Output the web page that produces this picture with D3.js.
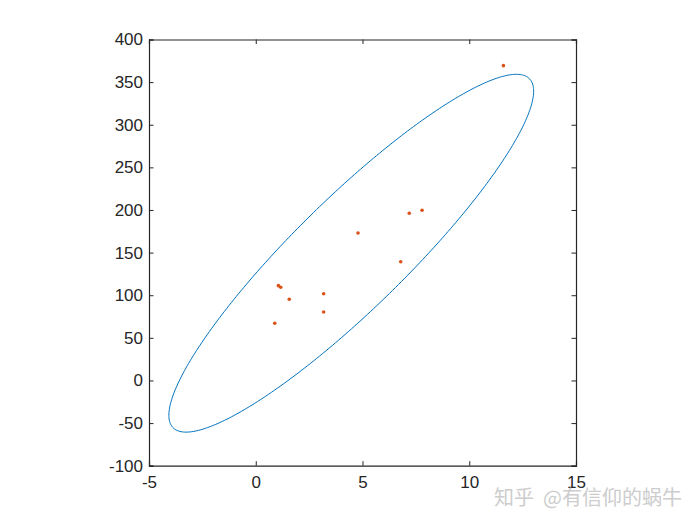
<!DOCTYPE html>
<html><head><meta charset="utf-8">
<script src="https://cdn.jsdelivr.net/npm/d3@7"></script>
<style>body{margin:0;background:#fff}svg{display:block}</style>
</head><body>
<svg id="chart" width="700" height="525"></svg>
<script>
const xValues = [1.06, 1.17, 1.57, 3.18, 3.18, 0.89, 7.19, 7.79, 4.79, 6.79, 11.6];
const yValues = [111.2, 109.3, 95.2, 101.8, 80.3, 67.1, 196.1, 199.6, 173.0, 139.3, 369.3];
const xTicks = [-5, 0, 5, 10, 15];
const yTicks = [-100, -50, 0, 50, 100, 150, 200, 250, 300, 350, 400];
const chi2_95 = 5.991; // 95% confidence for 2 dof
const watermark = "知乎 @有信仰的蜗牛";

const svg = d3.select("#chart");
const L = 149, R = 576, T = 39.5, B = 465.7;
const x = d3.scaleLinear().domain([-5, 15]).range([L, R]);
const y = d3.scaleLinear().domain([-100, 400]).range([B, T]);

// covariance ellipse
const n = xValues.length;
const mx = d3.mean(xValues), my = d3.mean(yValues);
let sxx = 0, syy = 0, sxy = 0;
for (let i = 0; i < n; i++) {
  const dx = xValues[i] - mx, dy = yValues[i] - my;
  sxx += dx * dx; syy += dy * dy; sxy += dx * dy;
}
sxx /= (n - 1); syy /= (n - 1); sxy /= (n - 1);
const tr = sxx + syy, det = sxx * syy - sxy * sxy;
const l1 = tr / 2 + Math.sqrt(tr * tr / 4 - det);
const l2 = tr / 2 - Math.sqrt(tr * tr / 4 - det);
const theta = Math.atan2(l1 - sxx, sxy);
const k = Math.sqrt(chi2_95);
const a = k * Math.sqrt(l1), b = k * Math.sqrt(l2);
const ell = d3.range(0, 361).map(d => {
  const t = d * Math.PI / 180;
  const ex = a * Math.cos(t), ey = b * Math.sin(t);
  return [mx + ex * Math.cos(theta) - ey * Math.sin(theta),
          my + ex * Math.sin(theta) + ey * Math.cos(theta)];
});

svg.append("path")
  .datum(ell)
  .attr("d", d3.line().x(d => x(d[0])).y(d => y(d[1])))
  .attr("fill", "none").attr("stroke", "#0072BD").attr("stroke-width", 1);

svg.selectAll("circle.pt").data(xValues).enter().append("circle")
  .attr("class", "pt")
  .attr("cx", (d) => x(d)).attr("cy", (d, i) => y(yValues[i]))
  .attr("r", 1.8).attr("fill", "#D95319");

const font = "'Liberation Sans', Arial, sans-serif";
const fmt = d => String(d);
const gx = svg.append("g").attr("transform", `translate(0,${B})`)
  .call(d3.axisBottom(x).tickValues(xTicks).tickSize(-4.5).tickPadding(10).tickFormat(fmt));
const gy = svg.append("g").attr("transform", `translate(${L},0)`)
  .call(d3.axisLeft(y).tickValues(yTicks).tickSize(-4.5).tickPadding(6).tickFormat(fmt));
const gx2 = svg.append("g").attr("transform", `translate(0,${T})`)
  .call(d3.axisTop(x).tickValues(xTicks).tickSize(-4.5).tickFormat(""));
const gy2 = svg.append("g").attr("transform", `translate(${R},0)`)
  .call(d3.axisRight(y).tickValues(yTicks).tickSize(-4.5).tickFormat(""));
[gx, gy, gx2, gy2].forEach(g => {
  g.select(".domain").attr("stroke", "#262626").attr("stroke-width", 1.2);
  g.selectAll(".tick line").attr("stroke", "#262626");
  g.selectAll("text").attr("font-family", font).attr("font-size", 17).attr("fill", "#262626");
});

svg.append("text").attr("x", 682).attr("y", 505).attr("text-anchor", "end")
  .attr("font-family", "'Noto Sans CJK SC', sans-serif").attr("font-size", 20)
  .attr("fill", "#c8c8c8").attr("opacity", 0.9)
  .attr("xml:space", "preserve").text(watermark.replace(" ", "  "));
</script>
</body></html>
